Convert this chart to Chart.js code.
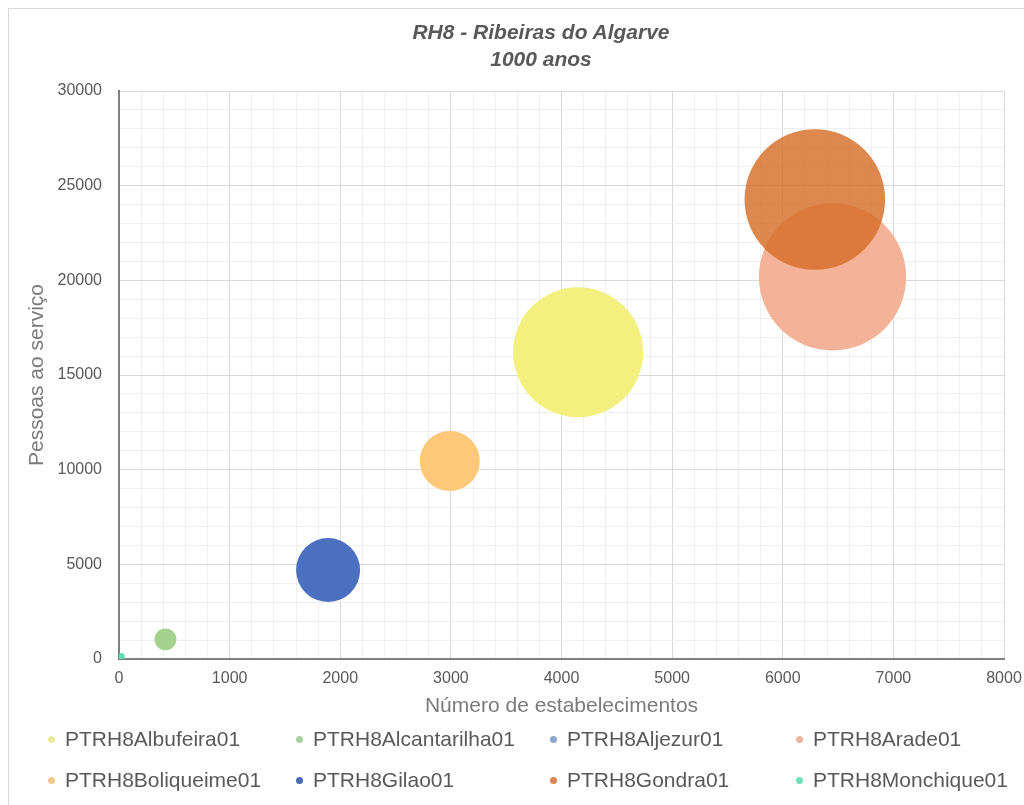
<!DOCTYPE html>
<html>
<head>
<meta charset="utf-8">
<script src="https://cdn.jsdelivr.net/npm/chart.js@4.4.1/dist/chart.umd.min.js"></script>
<style>
  html, body { margin: 0; padding: 0; background: #fff; }
  #wrap { position: relative; width: 1024px; height: 805px; overflow: hidden; font-family: "Liberation Sans", Arial, sans-serif; }
  #frame { position: absolute; left: 8px; top: 8px; right: -10px; bottom: -10px; border-left: 1px solid #d9d9d9; border-top: 1px solid #d9d9d9; }
  #title { position: absolute; left: 341px; width: 400px; top: 18px; text-align: center; color: #595959;
           font-weight: bold; font-style: italic; font-size: 21px; line-height: 27px; }
  .lg { position: absolute; font-size: 21px; color: #595959; line-height: 24px; white-space: nowrap; }
  .lg i { position: absolute; left: -17px; top: 8.5px; width: 7px; height: 7px; border-radius: 50%; }
  canvas { position: absolute; left: 0; top: 0; }
</style>
</head>
<body>
<div id="wrap">
  <div id="frame"></div>
  <canvas id="c" width="1024" height="805"></canvas>
  <div id="title">RH8 - Ribeiras do Algarve<br>1000 anos</div>
  <div id="legend"></div>
</div>
<script>
// Series (one bubble per water body)
const seriesNames = [
  'PTRH8Albufeira01', 'PTRH8Alcantarilha01', 'PTRH8Aljezur01', 'PTRH8Arade01',
  'PTRH8Boliqueime01', 'PTRH8Gilao01', 'PTRH8Gondra01', 'PTRH8Monchique01'
];
// Número de estabelecimentos
const establishments = [4150, 420, 15, 6450, 2990, 1890, 6290, 20];
// Pessoas ao serviço
const employees = [16200, 1040, 40, 20180, 10460, 4700, 24270, 130];
// Relative bubble size (largest = 100)
const bubbleSize = [78, 2.2, 0.08, 100, 16.6, 18.9, 91.2, 0.23];

const fillColors = ['#F3F07F', '#A5D18E', '#8FAADC', '#F4B298', '#FEC878', '#4A70BF', 'rgba(214,110,40,0.82)', '#5CDDB5'];
const legendColors = ['#E8EE9E', '#A9CFA0', '#8FA6CF', '#EDB39E', '#F4C88E', '#4A6AB0', '#D98650', '#6FE0B8'];

const MAX_R = 73.6;
const maxSize = Math.max(...bubbleSize);

// later series are painted over earlier ones
const datasets = seriesNames.map((name, i) => ({
  label: name,
  data: [{ x: establishments[i], y: employees[i], r: MAX_R * Math.sqrt(bubbleSize[i] / maxSize) }],
  backgroundColor: fillColors[i],
  borderWidth: 0,
  hoverBorderWidth: 0,
  order: seriesNames.length - i
}));

const FONT = '"Liberation Sans", Arial, sans-serif';
const MAJOR = '#d9d9d9';
const MINOR = '#efefef';

new Chart(document.getElementById('c'), {
  type: 'bubble',
  data: { datasets },
  options: {
    responsive: false,
    animation: false,
    events: [],
    layout: { autoPadding: false, padding: { left: 8, top: 91, right: 20, bottom: 76 } },
    plugins: { legend: { display: false }, tooltip: { enabled: false }, title: { display: false } },
    scales: {
      x: {
        type: 'linear',
        min: 0, max: 8000,
        afterFit: s => { s.height = 70; s.paddingLeft = 0; s.paddingRight = 0; },
        border: { display: true, color: '#808080', width: 2 },
        grid: {
          drawTicks: false,
          lineWidth: 1,
          color: c => (c.tick && c.tick.value % 1000 === 0) ? MAJOR : MINOR
        },
        ticks: {
          stepSize: 200, autoSkip: false, maxRotation: 0, padding: 10,
          color: '#595959', font: { family: FONT, size: 16 },
          callback: v => (v % 1000 === 0 ? String(v) : '')
        },
        title: {
          display: true, text: 'Número de estabelecimentos', color: '#7b7b7b',
          font: { family: FONT, size: 21 }, padding: { top: 0, bottom: 10 }
        }
      },
      y: {
        type: 'linear',
        min: 0, max: 30000,
        afterFit: s => { s.width = 111; s.paddingTop = 0; s.paddingBottom = 0; },
        border: { display: true, color: '#808080', width: 2 },
        grid: {
          drawTicks: false,
          lineWidth: 1,
          color: c => (c.tick && c.tick.value % 5000 === 0) ? MAJOR : MINOR
        },
        ticks: {
          stepSize: 1000, autoSkip: false, padding: 17,
          color: '#595959', font: { family: FONT, size: 16 },
          callback: v => (v % 5000 === 0 ? String(v) : '')
        },
        title: {
          display: true, text: 'Pessoas ao serviço', color: '#7b7b7b',
          font: { family: FONT, size: 21 }, padding: { top: 17, bottom: 0 }
        }
      }
    }
  }
});

// Legend: two rows of four entries
const legendX = [65, 313, 567, 813];
const legendY = [727, 768];
const legend = document.getElementById('legend');
seriesNames.forEach((name, i) => {
  const d = document.createElement('div');
  d.className = 'lg';
  d.style.left = legendX[i % 4] + 'px';
  d.style.top = legendY[Math.floor(i / 4)] + 'px';
  const dot = document.createElement('i');
  dot.style.background = legendColors[i];
  d.appendChild(dot);
  d.appendChild(document.createTextNode(name));
  legend.appendChild(d);
});
</script>
</body>
</html>
